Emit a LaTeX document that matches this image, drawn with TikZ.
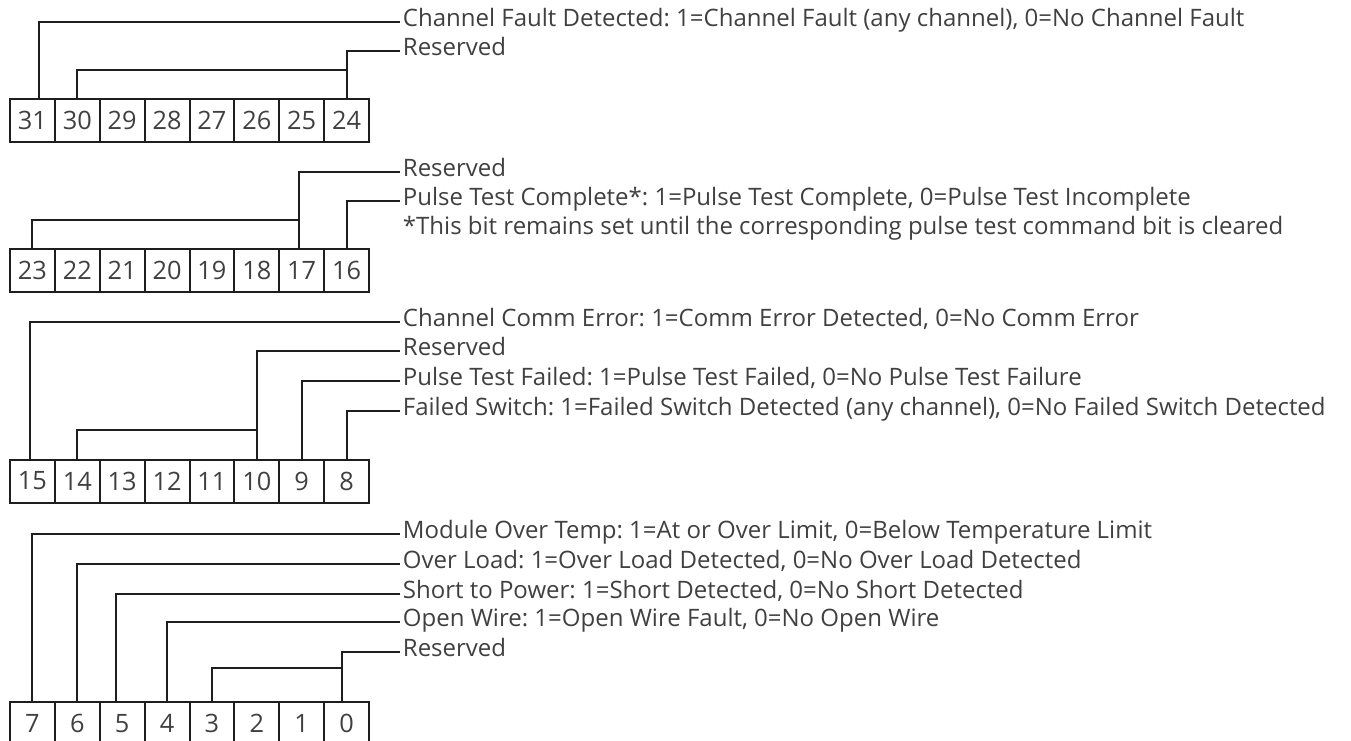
\documentclass[tikz,border=0pt]{standalone}
\usepackage{fontspec}
\setmainfont{Open Sans}
\frenchspacing
\usetikzlibrary{positioning, calc}
\definecolor{regline}{HTML}{1E1E1E}
\definecolor{regtext}{HTML}{404040}
\tikzset{
  bitbox/.style={rectangle, draw=regline, line width=1.5pt, minimum width=33.66pt,
                 minimum height=32.25pt, inner sep=0pt, outer sep=0pt, text=regtext,
                 font=\fontsize{19}{22}\selectfont},
  lead/.style={draw=regline, line width=1.5pt},
  desc/.style={anchor=west, inner sep=2pt, text height=0.72em, text depth=0pt,
               text=regtext, font=\fontsize{18}{21}\selectfont},
}
\begin{document}
\begin{tikzpicture}[x=0.75pt, y=-0.75pt]
\useasboundingbox (0,0) rectangle (1351,740);

% bits 31..24
\foreach \b [count=\i from 0] in {31,30,...,24}
  \node[bitbox] (b\b) at ({32.45+44.875*\i}, 120.5) {\b};
\node[desc] (cfd) at (400,22) {Channel Fault Detected: 1=Channel Fault (any channel), 0=No Channel Fault};
\node[desc] (res1) at (400,51) {Reserved};
\draw[lead] ([xshift=5pt]b31.north) |- (cfd.west);
\draw[lead] (b24.north) |- (res1.west);
\draw[lead] (b30.north) |- ($(b24.north)+(0,-29)$);

% bits 23..16
\foreach \b [count=\i from 0] in {23,22,...,16}
  \node[bitbox] (b\b) at ({32.45+44.875*\i}, 270.5) {\b};
\node[desc] (res2) at (400,172) {Reserved};
\node[desc] (ptc) at (400,201) {Pulse Test Complete*: 1=Pulse Test Complete, 0=Pulse Test Incomplete};
\node[desc] (note) at (400,230) {*This bit remains set until the corresponding pulse test command bit is cleared};
\draw[lead] ([xshift=-2pt]b17.north) |- (res2.west);
\draw[lead] (b16.north) |- (ptc.west);
\draw[lead] (b23.north) |- ($([xshift=-2pt]b17.north)+(0,-29)$);

% bits 15..8
\foreach \b [count=\i from 0] in {15,14,...,8}
  \node[bitbox] (b\b) at ({32.45+44.875*\i}, 481) {\b};
\node[desc] (cce) at (400,322) {Channel Comm Error: 1=Comm Error Detected, 0=No Comm Error};
\node[desc] (res3) at (400,351) {Reserved};
\node[desc] (ptf) at (400,381) {Pulse Test Failed: 1=Pulse Test Failed, 0=No Pulse Test Failure};
\node[desc] (fsw) at (400,411) {Failed Switch: 1=Failed Switch Detected (any channel), 0=No Failed Switch Detected};
\draw[lead] ([xshift=-2pt]b15.north) |- (cce.west);
\draw[lead] (b10.north) |- (res3.west);
\draw[lead] (b9.north) |- (ptf.west);
\draw[lead] (b8.north) |- (fsw.west);
\draw[lead] (b14.north) |- ($(b10.north)+(0,-30)$);

% bits 7..0
\foreach \b [count=\i from 0] in {7,6,...,0}
  \node[bitbox] (b\b) at ({32.45+44.875*\i}, 723.5) {\b};
\node[desc] (mot) at (400,534) {Module Over Temp: 1=At or Over Limit, 0=Below Temperature Limit};
\node[desc] (ovl) at (400,564) {Over Load: 1=Over Load Detected, 0=No Over Load Detected};
\node[desc] (stp) at (400,594) {Short to Power: 1=Short Detected, 0=No Short Detected};
\node[desc] (opw) at (400,622) {Open Wire: 1=Open Wire Fault, 0=No Open Wire};
\node[desc] (res4) at (400,652) {Reserved};
\draw[lead] (b7.north) |- (mot.west);
\draw[lead] (b6.north) |- (ovl.west);
\draw[lead] ([xshift=-4.5pt]b5.north) |- (stp.west);
\draw[lead] (b4.north) |- (opw.west);
\draw[lead] ([xshift=-3.75pt]b0.north) |- (res4.west);
\draw[lead] (b3.north) |- ($([xshift=-3.75pt]b0.north)+(0,-34)$);
\end{tikzpicture}
\end{document}
